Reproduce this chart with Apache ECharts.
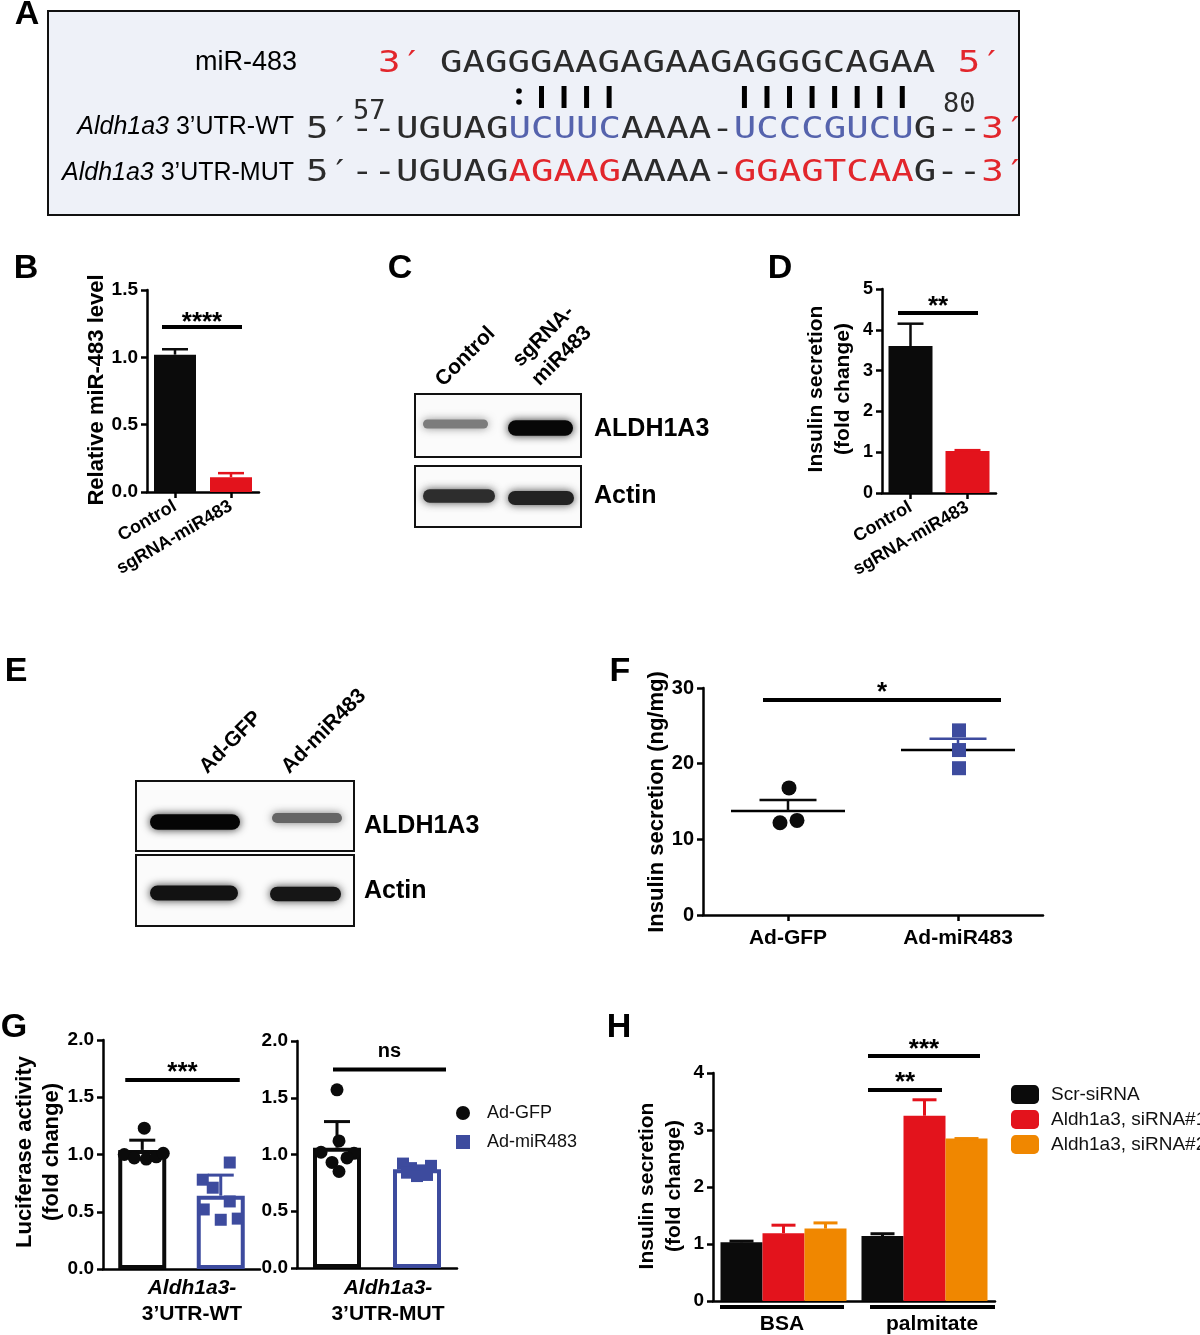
<!DOCTYPE html>
<html>
<head>
<meta charset="utf-8">
<script src="https://cdn.jsdelivr.net/npm/echarts@6.0.0/dist/echarts.min.js"></script>
<style>
html,body{margin:0;padding:0;background:#ffffff;}
#chart{width:1200px;height:1335px;}
</style>
</head>
<body>
<div id="chart"></div>
<script>
// ---------------- DATA ----------------
// Panel A sequences
const seqMiR = 'GAGGGAAGAGAAGAGGGCAGAA';
// Panel B
const catsB = ['Control', 'sgRNA-miR483'];
const valsB = [1.02, 0.11];
const errB = [1.06, 0.14];
// Panel C / E blot band intensities (lane 1, lane 2)
const bandC_ALDH1A3 = [0.45, 0.97];
const bandC_Actin = [0.8, 0.85];
const bandE_ALDH1A3 = [0.98, 0.55];
const bandE_Actin = [0.92, 0.9];
// Panel D
const catsD = ['Control', 'sgRNA-miR483'];
const valsD = [3.60, 1.03];
const errD = [4.15, 1.05];
// Panel F
const catsF = ['Ad-GFP', 'Ad-miR483'];
const ptsF_GFP = [16.8, 12.2, 12.5];
const ptsF_miR = [24.4, 21.8, 19.4];
const meanF = [13.75, 21.8];
const semF = [15.2, 23.3];
// Panel G
const catsG = ['Ad-GFP', 'Ad-miR483'];
const barsG_WT = [1.04, 0.64];
const errG_WT = [1.125, 0.82];
const ptsG_WT_GFP = [1.23, 1.00, 0.97, 0.96, 0.98, 1.01];
const ptsG_WT_miR = [0.93, 0.78, 0.71, 0.59, 0.52, 0.43, 0.44];
const barsG_MUT = [1.06, 0.87];
const errG_MUT = [1.29, 0.89];
const ptsG_MUT_GFP = [1.57, 1.12, 1.02, 1.01, 0.93, 0.97, 0.85];
const ptsG_MUT_miR = [0.92, 0.88, 0.86, 0.90, 0.84, 0.81, 0.82];
// Panel H
const catsH = ['BSA', 'palmitate'];
const namesH = ['Scr-siRNA', 'Aldh1a3, siRNA#1', 'Aldh1a3, siRNA#2'];
const valsH_scr = [1.03, 1.14];
const valsH_si1 = [1.19, 3.25];
const valsH_si2 = [1.27, 2.85];
const errH_scr = [1.05, 1.18];
const errH_si1 = [1.33, 3.53];
const errH_si2 = [1.37, 2.85];

// ---------------- STYLE ----------------
const FONT = '"Liberation Sans", Arial, Helvetica, sans-serif';
const MONO = '"DejaVu Sans Mono", monospace';
const BLACK = '#0b0b0b', RED = '#e3131c', ORANGE = '#f08700', BLUE = '#3d4b9e';
const SEQBLUE = '#5563ad', SEQRED = '#e2262c';
const colsBD = [BLACK, RED];
const colsG = [BLACK, BLUE];
const colsH = [BLACK, RED, ORANGE];
// horizontal jitter of dots (px)
const jitF_GFP = [1, -8, 9];
const jitF_miR = [1, 1, 1];
const jitG_WT_GFP = [2, -18, -8, 4, 14, 21];
const jitG_WT_miR = [9, -18, -8, 9, -17, 0, 17];
const jitG_MUT_GFP = [0, 2, -16, 17, -5, 10, 2];
const jitG_MUT_miR = [-14, -6, 4, 14, -10, 0, 10];

const chart = echarts.init(document.getElementById('chart'), null, {renderer: 'canvas', width: 1200, height: 1335});

function yAx(gi, min, max, interval, fs, dec) {
  return {type: 'value', gridIndex: gi, min: min, max: max, interval: interval,
    axisLine: {show: true, lineStyle: {color: '#000', width: 2.5}},
    axisTick: {show: true, length: 6, lineStyle: {color: '#000', width: 2.5}},
    axisLabel: {color: '#000', fontFamily: FONT, fontWeight: 'bold', fontSize: fs, margin: 9,
      formatter: function (v) { return dec ? v.toFixed(dec) : String(v); }},
    splitLine: {show: false}};
}
function xAx(gi, cats, o) {
  return {type: 'category', gridIndex: gi, data: cats, boundaryGap: true,
    axisLine: {show: true, onZero: false, lineStyle: {color: '#000', width: 2.5}},
    axisTick: {show: !!o.tick, alignWithLabel: true, length: 6, lineStyle: {color: '#000', width: 2.5}},
    axisLabel: {show: !!o.label, color: '#000', fontFamily: FONT, fontWeight: 'bold', fontSize: o.fs || 17,
      rotate: o.rotate || 0, margin: o.margin || 8, interval: 0},
    splitLine: {show: false}};
}
function errSeries(gi, vals, tops, colors, capW, offset, lw) {
  return {type: 'custom', xAxisIndex: gi, yAxisIndex: gi, z: 4, silent: true,
    data: vals.map(function (v, i) { return [i, v, tops[i]]; }),
    renderItem: function (params, api) {
      const i = api.value(0);
      const a = api.coord([i, api.value(1)]), b = api.coord([i, api.value(2)]);
      const x = a[0] + offset, c = colors[params.dataIndex];
      return {type: 'group', children: [
        {type: 'line', shape: {x1: x, y1: a[1], x2: x, y2: b[1]}, style: {stroke: c, lineWidth: lw}},
        {type: 'line', shape: {x1: x - capW / 2, y1: b[1], x2: x + capW / 2, y2: b[1]}, style: {stroke: c, lineWidth: lw}}
      ]};
    }};
}
function pts(gi, cat, vals, jit, name, sym, color, size) {
  return {type: 'scatter', name: name, xAxisIndex: gi, yAxisIndex: gi, z: 6, symbol: sym, symbolSize: size,
    itemStyle: {color: color, opacity: 1},
    data: vals.map(function (v, k) { return {value: [cat, v], symbolOffset: [jit[k] || 0, 0]}; })};
}
function barSeries(gi, vals, colors, w, extra) {
  return Object.assign({type: 'bar', xAxisIndex: gi, yAxisIndex: gi, barWidth: w, z: 2,
    data: vals.map(function (v, i) { return {value: v, itemStyle: {color: colors[i]}}; })}, extra || {});
}

const grids = [
  {left: 147, top: 290, width: 112, height: 202},   // B
  {left: 882, top: 289, width: 114, height: 204},   // D
  {left: 703, top: 688, width: 340, height: 227},   // F
  {left: 103, top: 1040, width: 157, height: 229},  // G WT
  {left: 297, top: 1041, width: 160, height: 227},  // G MUT
  {left: 713, top: 1073, width: 282, height: 228}   // H
];

const series = [];
// B
series.push(barSeries(0, valsB, colsBD, 42));
series.push(errSeries(0, valsB, errB, colsBD, 26, 0, 2.5));
// D
series.push(barSeries(1, valsD, colsBD, 44));
series.push(errSeries(1, valsD, errD, colsBD, 26, 0, 2.5));
// F
series.push(pts(2, 0, ptsF_GFP, jitF_GFP, 'Ad-GFP', 'circle', BLACK, 15));
series.push(pts(2, 1, ptsF_miR, jitF_miR, 'Ad-miR483', 'rect', BLUE, 14));
series.push({type: 'custom', xAxisIndex: 2, yAxisIndex: 2, z: 5, silent: true,
  data: meanF.map(function (m, i) { return [i, m, semF[i]]; }),
  renderItem: function (params, api) {
    const i = api.value(0);
    const a = api.coord([i, api.value(1)]), b = api.coord([i, api.value(2)]);
    const c = colsG[params.dataIndex];
    return {type: 'group', children: [
      {type: 'line', shape: {x1: a[0] - 57, y1: a[1], x2: a[0] + 57, y2: a[1]}, style: {stroke: '#000', lineWidth: 2.5}},
      {type: 'line', shape: {x1: a[0], y1: a[1], x2: a[0], y2: b[1]}, style: {stroke: c, lineWidth: 2.5}},
      {type: 'line', shape: {x1: a[0] - 28.5, y1: b[1], x2: a[0] + 28.5, y2: b[1]}, style: {stroke: c, lineWidth: 2.5}}
    ]};
  }});
// G WT
series.push({type: 'bar', name: 'G-WT', xAxisIndex: 3, yAxisIndex: 3, barWidth: 48, z: 2,
  data: barsG_WT.map(function (v, i) { return {value: v, itemStyle: {color: '#fff', borderColor: colsG[i], borderWidth: 4}}; })});
series.push(errSeries(3, barsG_WT, errG_WT, colsG, 26, 0, 3));
series.push(pts(3, 0, ptsG_WT_GFP, jitG_WT_GFP, 'Ad-GFP', 'circle', BLACK, 13));
series.push(pts(3, 1, ptsG_WT_miR, jitG_WT_miR, 'Ad-miR483', 'rect', BLUE, 12));
// G MUT
series.push({type: 'bar', name: 'G-MUT', xAxisIndex: 4, yAxisIndex: 4, barWidth: 48, z: 2,
  data: barsG_MUT.map(function (v, i) { return {value: v, itemStyle: {color: '#fff', borderColor: colsG[i], borderWidth: 4}}; })});
series.push(errSeries(4, barsG_MUT, errG_MUT, colsG, 26, 0, 3));
series.push(pts(4, 0, ptsG_MUT_GFP, jitG_MUT_GFP, 'Ad-GFP', 'circle', BLACK, 13));
series.push(pts(4, 1, ptsG_MUT_miR, jitG_MUT_miR, 'Ad-miR483', 'rect', BLUE, 12));
// H
const valsH = [valsH_scr, valsH_si1, valsH_si2];
const errH = [errH_scr, errH_si1, errH_si2];
valsH.forEach(function (vals, k) {
  series.push({type: 'bar', name: namesH[k], xAxisIndex: 5, yAxisIndex: 5, barWidth: 42, barGap: '0%', z: 2,
    itemStyle: {color: colsH[k]}, data: vals});
});
valsH.forEach(function (vals, k) {
  series.push(errSeries(5, vals, errH[k], [colsH[k], colsH[k]], 24, (k - 1) * 42, 3));
});

chart.setOption({
  animation: false,
  backgroundColor: '#ffffff',
  grid: grids,
  xAxis: [
    xAx(0, catsB, {tick: true, label: true, rotate: 30, fs: 18, margin: 13}),
    xAx(1, catsD, {tick: true, label: true, rotate: 30, fs: 18, margin: 13}),
    xAx(2, catsF, {tick: true, label: true, fs: 21, margin: 13}),
    xAx(3, catsG, {tick: false, label: false}),
    xAx(4, catsG, {tick: false, label: false}),
    xAx(5, catsH, {tick: false, label: false})
  ],
  yAxis: [
    yAx(0, 0, 1.5, 0.5, 19, 1),
    yAx(1, 0, 5, 1, 18, 0),
    yAx(2, 0, 30, 10, 20, 0),
    yAx(3, 0, 2, 0.5, 19, 1),
    yAx(4, 0, 2, 0.5, 19, 1),
    yAx(5, 0, 4, 1, 19, 0)
  ],
  legend: [
    {orient: 'vertical', left: 451, top: 1099, itemWidth: 14, itemHeight: 14, itemGap: 11, selectedMode: false,
      textStyle: {fontFamily: FONT, fontSize: 18, color: '#111', padding: [0, 0, 0, 12]},
      data: [{name: 'Ad-GFP', icon: 'circle'}, {name: 'Ad-miR483', icon: 'rect'}]},
    {orient: 'vertical', left: 1006, top: 1080, itemWidth: 28, itemHeight: 19, itemGap: 6, selectedMode: false,
      textStyle: {fontFamily: FONT, fontSize: 19, color: '#111', padding: [0, 0, 0, 7]},
      data: namesH.map(function (n) { return {name: n, icon: 'roundRect'}; })}
  ],
  series: series
});

// ---------------- GRAPHICS ----------------
const G = [];
function T(x, y, text, fs, o) {
  o = o || {};
  const al = o.align || 'center', va = o.va || 'middle';
  const el = {type: 'text', x: x, y: y, z: 20,
    style: {text: text, fill: o.fill || '#000', fontFamily: o.family || FONT, fontSize: fs,
      fontWeight: o.weight || 'normal', fontStyle: o.style || 'normal', lineHeight: o.lh || fs * 1.2,
      align: al, verticalAlign: va, textAlign: al, textVerticalAlign: va}};
  if (o.rich) el.style.rich = o.rich;
  if (o.rot) el.rotation = o.rot;
  if (o.sx) el.scaleX = o.sx;
  return el;
}
function L(x1, y1, x2, y2, lw, c) {
  return {type: 'line', z: 20, shape: {x1: x1, y1: y1, x2: x2, y2: y2}, style: {stroke: c || '#000', lineWidth: lw}};
}

// Panel A
G.push({type: 'rect', z: 1, shape: {x: 48, y: 11, width: 971, height: 204}, style: {fill: '#eef1f8', stroke: '#111', lineWidth: 2}});
const mono = {family: MONO, align: 'left', sx: 1.206};
function mrich(fs) {
  return {r: {fill: SEQRED, fontFamily: MONO, fontSize: fs}, b: {fill: SEQBLUE, fontFamily: MONO, fontSize: fs}};
}
G.push(T(378, 64, '{r|3′}', 31, Object.assign({rich: mrich(31)}, mono)));
G.push(T(440, 64, seqMiR + ' {r|5′}', 31, Object.assign({rich: mrich(31), fill: '#2b2b2b'}, mono)));
G.push(T(306, 130, '5′--UGUAG{b|UCUUC}AAAA-{b|UCCCGUCU}G--{r|3′}', 31, Object.assign({rich: mrich(31), fill: '#2b2b2b'}, mono)));
G.push(T(306, 173, '5′--UGUAG{r|AGAAG}AAAA-{r|GGAGTCAA}G--{r|3′}', 31, Object.assign({rich: mrich(31), fill: '#2b2b2b'}, mono)));
G.push(T(353, 112, '57', 27, Object.assign({fill: '#2b2b2b'}, mono, {sx: 1.0})));
G.push(T(943, 105, '80', 27, Object.assign({fill: '#2b2b2b'}, mono, {sx: 1.0})));
// pairing marks
G.push({type: 'circle', z: 20, shape: {cx: 519, cy: 91, r: 2.8}, style: {fill: '#000'}});
G.push({type: 'circle', z: 20, shape: {cx: 519, cy: 102, r: 2.8}, style: {fill: '#000'}});
[4, 5, 6, 7, 13, 14, 15, 16, 17, 18, 19, 20].forEach(function (k) {
  const x = 440 + (k + 0.5) * 22.55;
  G.push(L(x, 86, x, 108, 5));
});
G.push(T(297, 63, 'miR-483', 27, {align: 'right'}));
G.push(T(294, 127, '{i|Aldh1a3} 3’UTR-WT', 25, {align: 'right',
  rich: {i: {fontStyle: 'italic', fontFamily: FONT, fontSize: 25, fill: '#000'}}}));
G.push(T(294, 173, '{i|Aldh1a3} 3’UTR-MUT', 25, {align: 'right',
  rich: {i: {fontStyle: 'italic', fontFamily: FONT, fontSize: 25, fill: '#000'}}}));

// panel letters
[['A', 27, 15], ['B', 26, 269], ['C', 400, 269], ['D', 780, 269], ['E', 16, 672], ['F', 620, 672], ['G', 14, 1028], ['H', 619, 1028]]
  .forEach(function (p) { G.push(T(p[1], p[2], p[0], 34, {weight: 'bold'})); });

// blots
function box(x, y, w, h) {
  G.push({type: 'rect', z: 5, shape: {x: x, y: y, width: w, height: h}, style: {fill: '#fbfbfb', stroke: '#111', lineWidth: 2}});
}
function band(x1, x2, cy, inten) {
  const h = 3 + 13 * inten;
  const g = Math.round(225 * (1 - inten));
  const col = 'rgb(' + g + ',' + g + ',' + g + ')';
  G.push({type: 'rect', z: 6, shape: {x: x1, y: cy - h / 2, width: x2 - x1, height: h, r: h / 2},
    style: {fill: col, shadowBlur: 9, shadowColor: 'rgba(' + g + ',' + g + ',' + g + ',0.85)'}});
}
box(415, 394, 166, 63); box(415, 466, 166, 61);
band(423, 488, 424, bandC_ALDH1A3[0]); band(508, 573, 428, bandC_ALDH1A3[1]);
band(423, 495, 496, bandC_Actin[0]); band(508, 574, 498, bandC_Actin[1]);
box(136, 781, 218, 70); box(136, 855, 218, 71);
band(150, 240, 822, bandE_ALDH1A3[0]); band(272, 342, 818, bandE_ALDH1A3[1]);
band(150, 238, 893, bandE_Actin[0]); band(270, 341, 894, bandE_Actin[1]);
G.push(T(594, 429, 'ALDH1A3', 25, {weight: 'bold', align: 'left'}));
G.push(T(594, 496, 'Actin', 25, {weight: 'bold', align: 'left'}));
G.push(T(364, 826, 'ALDH1A3', 25, {weight: 'bold', align: 'left'}));
G.push(T(364, 891, 'Actin', 25, {weight: 'bold', align: 'left'}));
G.push(T(448, 392, 'Control', 21, {weight: 'bold', align: 'left', va: 'bottom', rot: Math.PI / 4}));
G.push(T(545, 392, 'sgRNA-\nmiR483', 21, {weight: 'bold', align: 'left', va: 'bottom', rot: Math.PI / 4, lh: 27}));
G.push(T(212, 779, 'Ad-GFP', 21, {weight: 'bold', align: 'left', va: 'bottom', rot: Math.PI / 4}));
G.push(T(294, 779, 'Ad-miR483', 21, {weight: 'bold', align: 'left', va: 'bottom', rot: Math.PI / 4}));

// y axis titles
G.push(T(97, 390, 'Relative miR-483 level', 22, {weight: 'bold', rot: Math.PI / 2}));
G.push(T(830, 389, 'Insulin secretion\n(fold change)', 21, {weight: 'bold', rot: Math.PI / 2, lh: 27}));
G.push(T(657, 802, 'Insulin secretion (ng/mg)', 22, {weight: 'bold', rot: Math.PI / 2}));
G.push(T(38, 1152, 'Luciferase activity\n(fold change)', 22, {weight: 'bold', rot: Math.PI / 2, lh: 27}));
G.push(T(661, 1186, 'Insulin secretion\n(fold change)', 21, {weight: 'bold', rot: Math.PI / 2, lh: 27}));

// G x labels
G.push(T(192, 1288, 'Aldh1a3-', 21, {weight: 'bold', style: 'italic'}));
G.push(T(192, 1314, '3’UTR-WT', 21, {weight: 'bold'}));
G.push(T(388, 1288, 'Aldh1a3-', 21, {weight: 'bold', style: 'italic'}));
G.push(T(388, 1314, '3’UTR-MUT', 21, {weight: 'bold'}));

// significance bars via the axes' scales
function sig(gi, c0, d0, c1, d1, val, label, fs, dy) {
  const a = chart.convertToPixel({gridIndex: gi}, [c0, val]);
  const b = chart.convertToPixel({gridIndex: gi}, [c1, val]);
  const x1 = a[0] + d0, x2 = b[0] + d1;
  G.push(L(x1, a[1], x2, a[1], 4));
  G.push(T((x1 + x2) / 2, a[1] + dy, label, fs, {weight: 'bold'}));
}
sig(0, 0, -13, 1, 11, 1.225, '****', 26, -4);
sig(1, 0, -12.5, 1, 10.5, 4.41, '**', 26, -6);
sig(2, 0, -25, 1, 43, 28.4, '*', 26, -7);
sig(3, 0, -17, 1, 19, 1.65, '***', 26, -7);
sig(4, 0, -4, 1, 29, 1.75, 'ns', 20, -18);
sig(5, 1, -56.5, 1, 17.5, 3.70, '**', 26, -7);
sig(5, 1, -56.5, 1, 55.5, 4.30, '***', 26, -6);
// H group underlines and group labels
[[0, -63.5, 60.5, -1.5], [1, -54.5, 70.5, 7.5]].forEach(function (u) {
  const p = chart.convertToPixel({gridIndex: 5}, [u[0], 0]);
  G.push(L(p[0] + u[1], p[1] + 6, p[0] + u[2], p[1] + 6, 4));
  G.push(T(p[0] + u[3], p[1] + 23, catsH[u[0]], 21, {weight: 'bold'}));
});

chart.setOption({graphic: {elements: G}});
</script>
</body>
</html>
